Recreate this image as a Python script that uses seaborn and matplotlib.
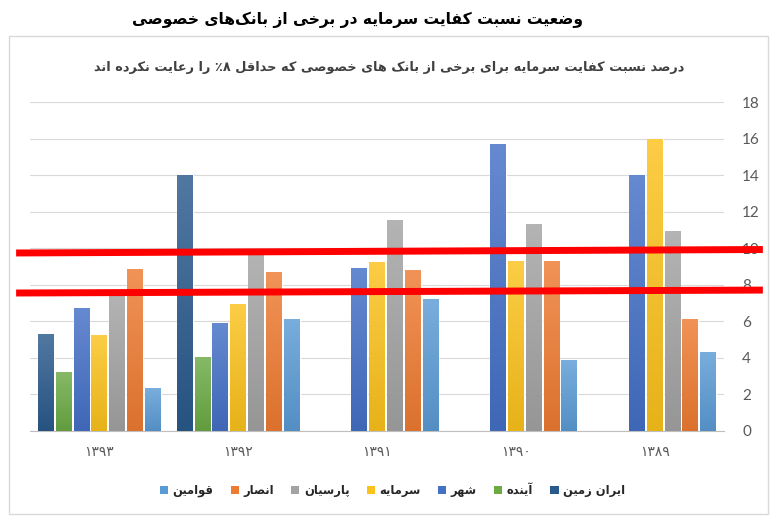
import numpy as np
import pandas as pd
import seaborn as sns
import matplotlib
matplotlib.use("Agg")
import matplotlib.pyplot as plt
import matplotlib.colors as mcolors
from matplotlib.patches import Rectangle, Patch

# ---------------- data ----------------
years = ["۱۳۹۳", "۱۳۹۲", "۱۳۹۱", "۱۳۹۰", "۱۳۸۹"]
banks = ["ایران زمین", "آینده", "شهر", "سرمایه", "پارسیان", "انصار", "قوامین"]
iran_zamin = [5.3, 14.0, np.nan, np.nan, np.nan]
ayandeh = [3.2, 4.0, np.nan, np.nan, np.nan]
shahr = [6.7, 5.9, 8.9, 15.7, 14.0]
sarmayeh = [5.2, 6.9, 9.2, 9.3, 15.95]
parsian = [7.5, 9.7, 11.5, 11.3, 10.9]
ansar = [8.85, 8.65, 8.8, 9.25, 6.1]
ghavamin = [2.3, 6.1, 7.2, 3.85, 4.3]
series = [iran_zamin, ayandeh, shahr, sarmayeh, parsian, ansar, ghavamin]
colors = ["#2A5A8C", "#6BAA45", "#4470C6", "#FBC21C", "#A3A3A3", "#EE7B32", "#5B9BD5"]

title = "وضعیت نسبت کفایت سرمایه در برخی از بانک\u200cهای خصوصی"
subtitle = "درصد نسبت کفایت سرمایه برای برخی از بانک های خصوصی که حداقل ۸٪ را رعایت نکرده اند"

# hand-drawn red reference lines (value at left end, value at right end)
red_upper = [9.74, 9.93]
red_lower = [7.55, 7.71]
red_x = [-0.02, 1.056]

# ---------------- Persian shaping (visual order) ----------------
FORMS = {
    'ا': ('\uFE8D', '\uFE8E', None, None),
    'آ': ('\uFE81', '\uFE82', None, None),
    'ب': ('\uFE8F', '\uFE90', '\uFE91', '\uFE92'),
    'پ': ('\uFB56', '\uFB57', '\uFB58', '\uFB59'),
    'ت': ('\uFE95', '\uFE96', '\uFE97', '\uFE98'),
    'ح': ('\uFEA1', '\uFEA2', '\uFEA3', '\uFEA4'),
    'خ': ('\uFEA5', '\uFEA6', '\uFEA7', '\uFEA8'),
    'د': ('\uFEA9', '\uFEAA', None, None),
    'ر': ('\uFEAD', '\uFEAE', None, None),
    'ز': ('\uFEAF', '\uFEB0', None, None),
    'س': ('\uFEB1', '\uFEB2', '\uFEB3', '\uFEB4'),
    'ش': ('\uFEB5', '\uFEB6', '\uFEB7', '\uFEB8'),
    'ص': ('\uFEB9', '\uFEBA', '\uFEBB', '\uFEBC'),
    'ض': ('\uFEBD', '\uFEBE', '\uFEBF', '\uFEC0'),
    'ع': ('\uFEC9', '\uFECA', '\uFECB', '\uFECC'),
    'ف': ('\uFED1', '\uFED2', '\uFED3', '\uFED4'),
    'ق': ('\uFED5', '\uFED6', '\uFED7', '\uFED8'),
    'ک': ('\uFB8E', '\uFB8F', '\uFB90', '\uFB91'),
    'ل': ('\uFEDD', '\uFEDE', '\uFEDF', '\uFEE0'),
    'م': ('\uFEE1', '\uFEE2', '\uFEE3', '\uFEE4'),
    'ن': ('\uFEE5', '\uFEE6', '\uFEE7', '\uFEE8'),
    'ه': ('\uFEE9', '\uFEEA', '\uFEEB', '\uFEEC'),
    'و': ('\uFEED', '\uFEEE', None, None),
    'ی': ('\uFBFC', '\uFBFD', '\uFBFE', '\uFBFF'),
}


def fa(text):
    chars = list(text)
    n = len(chars)
    res = []
    for i, c in enumerate(chars):
        if c == '\u200c':
            continue
        if c not in FORMS:
            res.append(c)
            continue
        iso, fin, ini, med = FORMS[c]
        prev = chars[i - 1] if i > 0 else ''
        nxt = chars[i + 1] if i + 1 < n else ''
        jp = prev in FORMS and FORMS[prev][2] is not None
        jn = ini is not None and nxt in FORMS
        if jp and jn:
            res.append(med)
        elif jp:
            res.append(fin)
        elif jn:
            res.append(ini)
        else:
            res.append(iso)
    vis = res[::-1]
    out = []
    i = 0
    while i < len(vis):
        if vis[i].isdigit():
            j = i
            while j < len(vis) and vis[j].isdigit():
                j += 1
            out.extend(vis[i:j][::-1])
            i = j
        else:
            out.append(vis[i])
            i += 1
    return ''.join(out)


# ---------------- figure ----------------
sns.set_theme(style="white")
plt.rcParams['font.family'] = ['DejaVu Sans']

rows = []
for b, vals in zip(banks, series):
    for y, v in zip(years, vals):
        rows.append({"year": y, "bank": b, "value": v})
df = pd.DataFrame(rows)

fig = plt.figure(figsize=(7.75, 5.19), dpi=100)
W, H = 775, 519
ax = fig.add_axes([30 / W, 88 / H, 694 / W, 329 / H])

sns.barplot(data=df, x="year", y="value", hue="bank", order=years, hue_order=banks,
            palette=colors, width=0.9, gap=0.11, saturation=1, errorbar=None,
            legend=False, ax=ax)


def mix(c, other, t):
    c = np.array(mcolors.to_rgb(c))
    o = np.array(mcolors.to_rgb(other))
    return c * (1 - t) + o * t


# gradient fill like the original
for p in list(ax.patches):
    x0, y0, w, h = p.get_x(), p.get_y(), p.get_width(), p.get_height()
    if not np.isfinite(h) or h <= 0:
        continue
    base = p.get_facecolor()[:3]
    top = mix(base, "white", 0.18)
    bot = mix(base, "black", 0.08)
    t = np.linspace(0, 1, 64)[:, None]
    grad = (top[None, :] * (1 - t) + bot[None, :] * t)[:, None, :]
    ax.imshow(grad, extent=[x0, x0 + w, y0, y0 + h], origin="upper", aspect="auto",
              interpolation="bilinear", zorder=3)

ax.set_xlim(-0.5, 4.5)
ax.set_ylim(0, 18)
ax.set_xlabel("")
ax.set_ylabel("")
ax.set_axisbelow(True)
ax.yaxis.grid(True, color="#D9D9D9", lw=0.8)
ax.xaxis.grid(False)
for s in ["top", "left", "right"]:
    ax.spines[s].set_visible(False)
ax.spines["bottom"].set_color("#BFBFBF")
ax.spines["bottom"].set_linewidth(0.8)

ax.yaxis.tick_right()
ax.set_yticks(range(0, 19, 2))
ax.tick_params(axis="y", length=0, pad=13, labelsize=11, labelcolor="#595959")
for lbl in ax.get_yticklabels():
    lbl.set_fontfamily("Lato")
ax.set_xticks(range(len(years)))
ax.set_xticklabels(years)
ax.tick_params(axis="x", length=0, pad=10, labelsize=10, labelcolor="#595959")

for yv in (red_upper, red_lower):
    ax.plot(red_x, yv, transform=ax.get_yaxis_transform(), color="#FF0000", lw=5,
            solid_capstyle="butt", clip_on=False, zorder=6)

fig.add_artist(Rectangle((9 / W, 5 / H), 759 / W, 478 / H, transform=fig.transFigure,
                         fill=False, ec="#D9D9D9", lw=1))

fig.text(357.5 / W, 1 - 20 / H, fa(title), ha="center", va="center", fontsize=11.2,
         fontweight="bold", color="black")
fig.text(389.5 / W, 1 - 67 / H, fa(subtitle), ha="center", va="center", fontsize=9.3,
         fontweight="bold", color="#404040")

handles = [Patch(facecolor=c, edgecolor="none") for c in colors[::-1]]
labels = [fa(b) for b in banks[::-1]]
fig.legend(handles, labels, loc="center", bbox_to_anchor=(392.5 / W, 1 - 490 / H), ncol=7,
           frameon=False, handlelength=0.7, handleheight=0.7, handletextpad=0.4,
           columnspacing=1.5, prop={"weight": "bold", "size": 8.3})

fig.savefig("out.png", dpi=100)
